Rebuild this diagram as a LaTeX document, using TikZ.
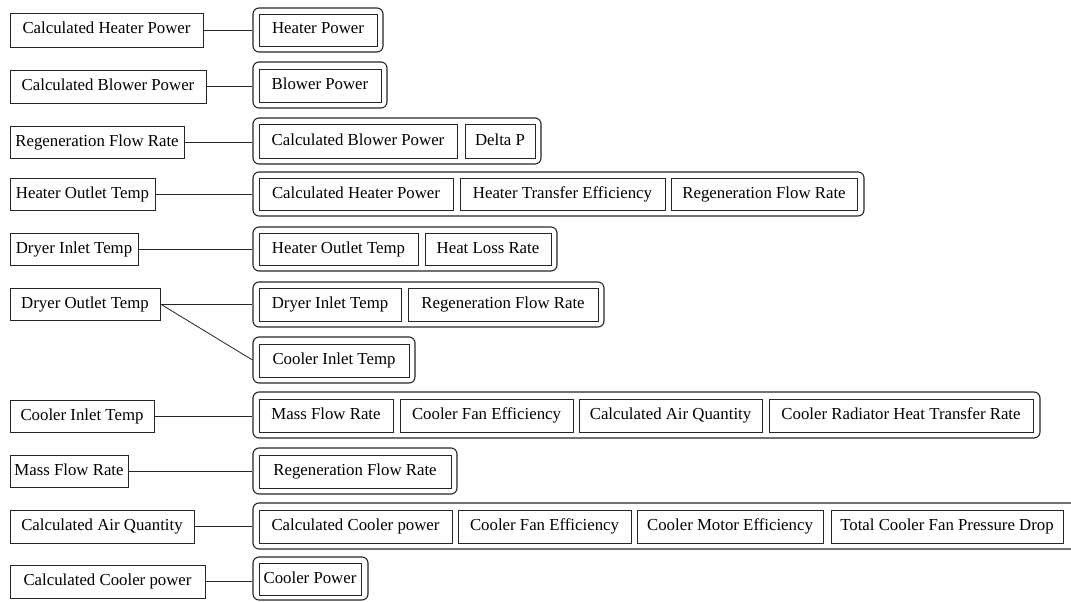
\documentclass[tikz,border=0pt]{standalone}
\usepackage{fontspec}
\setmainfont{Liberation Serif}
% \bx{style}{name}{x1}{y1}{x2}{y2}{text}: a box spanning two corners
\newcommand\bx[7]{%
  \pgfmathsetmacro\bxw{#5-#3}\pgfmathsetmacro\bxh{#6-#4}%
  \pgfmathsetmacro\bxcx{(#3+#5)/2}\pgfmathsetmacro\bxcy{(#4+#6)/2}%
  \node[#1, minimum width=\bxw pt, minimum height=\bxh pt] (#2) at (\bxcx,\bxcy) {#7};}
\begin{document}
\begin{tikzpicture}[x=1pt,y=-1pt,
  every node/.style={font=\fontsize{16.8}{20}\selectfont, text height=11.5pt, text depth=3.5pt},
  leftbox/.style={draw=black!85, line width=0.9pt, inner sep=0pt},
  itembox/.style={draw=black!85, line width=0.9pt, inner sep=0pt},
  groupbox/.style={draw=black!85, line width=1.1pt, rounded corners=6pt, inner sep=0pt},
  link/.style={draw=black!85, line width=0.8pt}]
\useasboundingbox (0,0) rectangle (1071,602);
\fill[white] (0,0) rectangle (1071,602);
\clip (0,0) rectangle (1071,602);

% quantities on the left
\bx{leftbox}{l1}{10}{13}{203}{47}{Calculated Heater Power}
\bx{leftbox}{l2}{10}{70}{206}{103}{Calculated Blower Power}
\bx{leftbox}{l3}{10}{126}{184}{158}{Regeneration Flow Rate}
\bx{leftbox}{l4}{10}{178}{155}{210}{Heater Outlet Temp}
\bx{leftbox}{l5}{10}{233}{138}{265}{Dryer Inlet Temp}
\bx{leftbox}{l6}{10}{288}{160}{320}{Dryer Outlet Temp}
\bx{leftbox}{l7}{10}{400}{154}{432}{Cooler Inlet Temp}
\bx{leftbox}{l8}{10}{455}{128}{487}{Mass Flow Rate}
\bx{leftbox}{l9}{10}{510}{194}{543}{Calculated Air Quantity}
\bx{leftbox}{l10}{10}{565}{205}{598}{Calculated Cooler power}

% groups of dependencies
\bx{groupbox}{g1}{253}{8}{383}{52}{}
\bx{groupbox}{g2}{253}{62}{387}{108}{}
\bx{groupbox}{g3}{253}{118}{541}{164}{}
\bx{groupbox}{g4}{253}{172}{864}{216}{}
\bx{groupbox}{g5}{253}{227}{557}{271}{}
\bx{groupbox}{g6a}{253}{282}{604}{327}{}
\bx{groupbox}{g6b}{253}{337}{415}{383}{}
\bx{groupbox}{g7}{253}{392}{1040}{438}{}
\bx{groupbox}{g8}{253}{448}{457}{494}{}
\bx{groupbox}{g9}{253}{503}{1085}{549}{}
\bx{groupbox}{g10}{253}{557}{368}{600}{}

% dependency items
\bx{itembox}{a1}{259}{14}{377}{46}{Heater Power}
\bx{itembox}{b1}{259}{69}{381}{102}{Blower Power}
\bx{itembox}{c1}{259}{124}{457}{158}{Calculated Blower Power}
\bx{itembox}{c2}{465}{124}{535}{158}{Delta P}
\bx{itembox}{d1}{259}{178}{453}{210}{Calculated Heater Power}
\bx{itembox}{d2}{460}{178}{665}{210}{Heater Transfer Efficiency}
\bx{itembox}{d3}{671}{178}{857}{210}{Regeneration Flow Rate}
\bx{itembox}{e1}{259}{233}{418}{265}{Heater Outlet Temp}
\bx{itembox}{e2}{425}{233}{551}{265}{Heat Loss Rate}
\bx{itembox}{f1}{259}{288}{401}{321}{Dryer Inlet Temp}
\bx{itembox}{f2}{408}{288}{598}{321}{Regeneration Flow Rate}
\bx{itembox}{h1}{259}{344}{409}{377}{Cooler Inlet Temp}
\bx{itembox}{i1}{259}{399}{393}{432}{Mass Flow Rate}
\bx{itembox}{i2}{400}{399}{573}{432}{Cooler Fan Efficiency}
\bx{itembox}{i3}{579}{399}{762}{432}{Calculated Air Quantity}
\bx{itembox}{i4}{769}{399}{1033}{432}{Cooler Radiator Heat Transfer Rate}
\bx{itembox}{j1}{259}{455}{451}{488}{Regeneration Flow Rate}
\bx{itembox}{k1}{259}{510}{452}{543}{Calculated Cooler power}
\bx{itembox}{k2}{458}{510}{631}{543}{Cooler Fan Efficiency}
\bx{itembox}{k3}{637}{510}{823}{543}{Cooler Motor Efficiency}
\bx{itembox}{k4}{831}{510}{1063}{543}{Total Cooler Fan Pressure Drop}
\bx{itembox}{m1}{259}{563}{361}{595}{Cooler Power}

% connectors
\draw[link] (l1.east) -- (l1.east -| g1.west);
\draw[link] (l2.east) -- (l2.east -| g2.west);
\draw[link] (l3.east) -- (l3.east -| g3.west);
\draw[link] (l4.east) -- (l4.east -| g4.west);
\draw[link] (l5.east) -- (l5.east -| g5.west);
\draw[link] (l6.east) -- (l6.east -| g6a.west);
\draw[link] (l6.east) -- (g6b.west);
\draw[link] (l7.east) -- (l7.east -| g7.west);
\draw[link] (l8.east) -- (l8.east -| g8.west);
\draw[link] (l9.east) -- (l9.east -| g9.west);
\draw[link] (l10.east) -- (l10.east -| g10.west);
\end{tikzpicture}
\end{document}
